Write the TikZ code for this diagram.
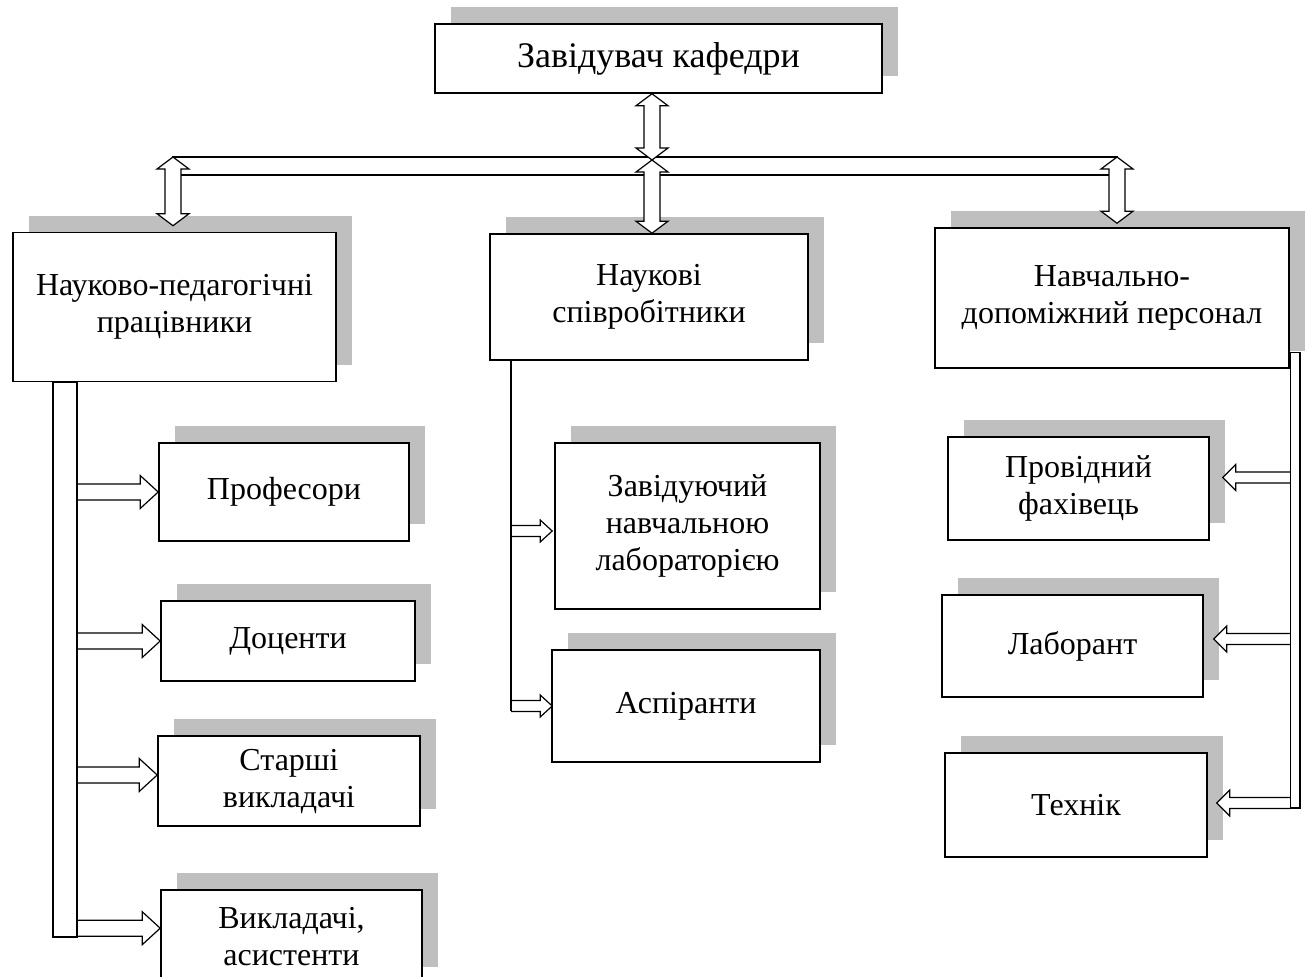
\documentclass[tikz,border=0pt]{standalone}
\usepackage{fontspec}
\setmainfont{Liberation Serif}
\usetikzlibrary{calc,shadows}
\definecolor{shadowgray}{HTML}{BFBFBF}

% hollow double headed arrow, top tip to bottom tip
\newcommand{\vdarrow}[2]{%
  \coordinate (top) at (#1);
  \coordinate (bot) at (#2);
  \draw[arr] (top) -- ($(top)+(16,12)$) -- ($(top)+(8,12)$) -- ($(bot)+(8,-12)$) -- ($(bot)+(16,-12)$) -- (bot)
    -- ($(bot)+(-16,-12)$) -- ($(bot)+(-8,-12)$) -- ($(top)+(-8,12)$) -- ($(top)+(-16,12)$) -- cycle;}
% hollow arrow from a bar to a box: bar, tip, shaft half, head half, head length
\newcommand{\harrow}[5]{%
  \coordinate (tip) at (#2);
  \coordinate (tail) at (#1 |- tip);
  \draw[arr] ($(tail)+(0,-#3)$) -- ($(tip)+({-(#5)},-#3)$) -- ($(tip)+({-(#5)},-#4)$) -- (tip)
    -- ($(tip)+({-(#5)},#4)$) -- ($(tip)+({-(#5)},#3)$) -- ($(tail)+(0,#3)$);}

\begin{document}
\begin{tikzpicture}[x=1pt,y=-1pt,
    unit/.style={draw,fill=white,line width=1.6pt,align=center,inner sep=0pt,
      drop shadow={shadow xshift=16pt,shadow yshift=17pt,fill=shadowgray,opacity=1}},
    arr/.style={draw,fill=white,line width=1.2pt}]
  \tikzstyle{post}=[unit,font=\fontsize{32}{37}\selectfont]
  \useasboundingbox (0,0) rectangle (1307,977);

  \node[unit,font=\fontsize{36}{40}\selectfont,minimum width=447pt,minimum height=69pt] (head) at (658.5,58.5) {Завідувач кафедри};

  \node[post,minimum width=323pt,minimum height=149pt] (npp) at (174.5,307) {Науково-педагогічні\\працівники};
  \node[post,minimum width=318pt,minimum height=126pt] (nsp) at (649,297) {Наукові\\співробітники};
  \node[post,minimum width=354pt,minimum height=140pt] (ndp) at (1112,298) {Навчально-\\допоміжний персонал};

  \node[post,minimum width=250pt,minimum height=98pt] (prof) at (284,492) {Професори};
  \node[post,minimum width=254pt,minimum height=80pt] (doc) at (288,641) {Доценти};
  \node[post,minimum width=262pt,minimum height=90pt] (star) at (289,781) {Старші\\викладачі};
  \node[post,minimum width=261pt,minimum height=94pt] (vykl) at (291.5,937) {Викладачі,\\асистенти};

  \node[post,minimum width=265pt,minimum height=166pt] (zlab) at (687.5,526) {Завідуючий\\навчальною\\лабораторією};
  \node[post,minimum width=268pt,minimum height=112pt] (asp) at (686,706) {Аспіранти};

  \node[post,minimum width=261pt,minimum height=103pt] (prov) at (1078.5,488.5) {Провідний\\фахівець};
  \node[post,minimum width=261pt,minimum height=102pt] (lab) at (1072.5,646) {Лаборант};
  \node[post,minimum width=262pt,minimum height=104pt] (tech) at (1076,805) {Технік};

  % top links
  \coordinate (hl) at (173,157);
  \coordinate (hr) at (1117,175);
  \coordinate (hub) at (652,160);
  \draw[arr] (hl) rectangle (hr);
  \vdarrow{head.south -| hub}{hub}
  \vdarrow{hub}{nsp.north -| hub}
  \vdarrow{hl}{$(npp.north -| hl)+(0,-6)$}
  \vdarrow{hr |- hl}{$(ndp.north -| hr)+(0,-4)$}

  % left bar
  \coordinate (lbar) at (77,937);
  \harrow{lbar}{prof.west}{8}{16.5}{18}
  \harrow{lbar}{doc.west}{8}{16.5}{18}
  \harrow{lbar}{$(star.west)+(0,-6)$}{8}{16.5}{18}
  \harrow{lbar}{$(vykl.north west)+(0,39)$}{8}{16.5}{18}
  \draw[arr] (npp.south -| 53,0) rectangle (lbar);

  % middle line
  \coordinate (mbar) at (511,711);
  \harrow{mbar}{$(zlab.west)+(-2,5)$}{5.5}{11}{12}
  \harrow{mbar}{$(asp.west)+(1,0)$}{5.5}{11}{12}
  \draw[line width=1.2pt] (nsp.south -| mbar) -- (mbar);

  % right bar
  \coordinate (rbar) at (1290,808);
  \harrow{rbar}{$(prov.east)+(13,-11)$}{5.5}{13}{-13}
  \harrow{rbar}{$(lab.east)+(10,-7)$}{5.5}{13}{-13}
  \harrow{rbar}{$(tech.east)+(9,-2)$}{5.5}{13}{-13}
  \draw[arr] ($(ndp.south east)+(1,-16)$) rectangle ($(rbar)+(10,0)$);
\end{tikzpicture}
\end{document}
